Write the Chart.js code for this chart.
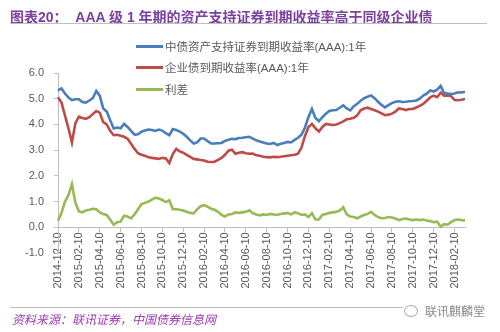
<!DOCTYPE html>
<html>
<head>
<meta charset="utf-8">
<script src="https://cdn.jsdelivr.net/npm/chart.js@4.4.1/dist/chart.umd.min.js"></script>
<style>
  body { margin: 0; background: #fff; }
  #wrap { position: relative; width: 500px; height: 332px; overflow: hidden;
          font-family: "Liberation Sans", "Noto Sans CJK SC", sans-serif; }
  #myChart { position: absolute; left: 0; top: 0; }
  .title { position: absolute; left: 10px; top: 6px; font-size: 14px; font-weight: bold;
           color: #7b3fa0; white-space: nowrap; }
  .rule { position: absolute; height: 1px; background: #bfbfbf; }
  .legend { position: absolute; left: 136px; font-size: 11.5px; color: #595959; white-space: nowrap;
            display: flex; align-items: center; }
  .legend i { display: inline-block; width: 27px; height: 3px; margin-right: 2px; }
  .source { position: absolute; left: 12px; top: 310px; font-size: 12px; font-style: italic;
            color: #9b3bb0; white-space: nowrap; }
  .mark { position: absolute; left: 404px; top: 302px; font-size: 12px; color: #8a8a8a;
          white-space: nowrap; display: flex; align-items: center; }
  .mark b { display: inline-block; width: 12px; height: 10px; border: 1px solid #aaa;
            border-radius: 50%; margin-right: 7px; }
  #minLabel { position: absolute; right: 456px; top: 246px; z-index: 10; font-size: 11px;
              line-height: 13px; color: #595959; white-space: nowrap; }
</style>
</head>
<body>
<div id="wrap">
  <canvas id="myChart" width="500" height="332"></canvas>
  <div class="title">图表20：&nbsp; AAA 级 1 年期的资产支持证券到期收益率高于同级企业债</div>
  <div class="rule" style="left:10px; top:23px; width:477px;"></div>
  <div class="legend" style="top:38px;"><i style="background:#4a7ebb"></i>中债资产支持证券到期收益率(AAA):1年</div>
  <div class="legend" style="top:59px;"><i style="background:#be4b48"></i>企业债到期收益率(AAA):1年</div>
  <div class="legend" style="top:81px;"><i style="background:#98b954"></i>利差</div>
  <div class="rule" style="left:10px; top:307px; width:393px;"></div>
  <div class="source">资料来源：联讯证券，中国债券信息网</div>
  <div class="mark"><b></b>联讯麒麟堂</div>
  <div id="minLabel"></div>
</div>
<script>
// dates: 10th, 20th, 30th of each month, 2014-12-10 .. 2018-03-10
const dates = [];
for (let y = 2014, m = 12; y < 2018 || m <= 3; m++) {
  if (m > 12) { m = 1; y++; }
  const mm = String(m).padStart(2, "0");
  for (const d of ["10", "20", "30"]) {
    if (y === 2018 && m === 3 && d !== "10") break;
    dates.push(y + "-" + mm + "-" + d);
  }
}

const absYield = [
  5.32, 5.4, 5.2, 5.05, 4.95, 4.98, 4.98, 4.87, 4.85, 4.93, 5.02, 5.3,
  5.12, 4.62, 4.5, 4.16, 3.84, 3.88, 3.85, 4.02, 3.9, 3.75, 3.6, 3.62,
  3.72, 3.76, 3.8, 3.78, 3.75, 3.8, 3.76, 3.66, 3.58, 3.82, 3.78, 3.72,
  3.64, 3.52, 3.38, 3.26, 3.3, 3.45, 3.45, 3.35, 3.26, 3.26, 3.27, 3.28,
  3.36, 3.4, 3.44, 3.43, 3.47, 3.48, 3.5, 3.52, 3.45, 3.38, 3.34, 3.3,
  3.26, 3.24, 3.28, 3.2, 3.25, 3.28, 3.32, 3.3, 3.4, 3.48, 3.6, 3.88,
  4.29, 4.6, 4.25, 4.13, 4.28, 4.42, 4.52, 4.55, 4.56, 4.65, 4.74, 4.62,
  4.55, 4.7, 4.8, 4.92, 5.02, 5.08, 5.13, 5.02, 4.88, 4.76, 4.66, 4.75,
  4.83, 4.88, 4.9, 4.87, 4.88, 4.9, 4.91, 4.93, 5.0, 5.12, 5.2, 5.32,
  5.28, 5.35, 5.5, 5.22, 5.2, 5.18, 5.2, 5.25, 5.24, 5.27
];

const corpYield = [
  5.06, 4.85, 4.35, 3.85, 3.3, 4.05, 4.3, 4.25, 4.22, 4.28, 4.4, 4.52,
  4.46, 4.09, 4.0, 3.75, 3.58, 3.6, 3.56, 3.52, 3.44, 3.25, 3.05, 2.88,
  2.82, 2.78, 2.72, 2.7, 2.68, 2.66, 2.7, 2.68, 2.5, 2.85, 3.05, 2.95,
  2.9, 2.82, 2.74, 2.66, 2.64, 2.62, 2.6, 2.55, 2.54, 2.55, 2.62, 2.7,
  2.82, 2.98, 3.02, 2.86, 2.9, 2.92, 2.88, 2.86, 2.87, 2.8, 2.78, 2.74,
  2.73, 2.72, 2.74, 2.73, 2.74, 2.76, 2.78, 2.8, 2.82, 2.86, 3.1, 3.55,
  3.9, 4.02, 3.85, 3.72, 3.9, 4.02, 4.0, 3.98, 4.0, 4.05, 4.12, 4.2,
  4.22, 4.26, 4.35, 4.55, 4.62, 4.65, 4.6, 4.55, 4.5, 4.43, 4.36, 4.38,
  4.42, 4.5, 4.62, 4.6, 4.56, 4.6, 4.6, 4.66, 4.72, 4.8, 4.92, 5.05,
  5.12, 5.06, 5.24, 5.12, 5.13, 5.1, 4.95, 4.94, 4.96, 4.99
];

const spread = [
  0.26, 0.55, 1.0, 1.25, 1.68, 0.95, 0.62, 0.58, 0.65, 0.68, 0.72, 0.7,
  0.58, 0.52, 0.48, 0.3, 0.1, 0.2, 0.22, 0.45, 0.42, 0.35, 0.5, 0.7,
  0.9, 0.95, 1.0, 1.08, 1.15, 1.12, 1.06, 0.98, 1.05, 0.7, 0.7, 0.68,
  0.65, 0.6, 0.56, 0.54, 0.7, 0.82, 0.86, 0.8, 0.72, 0.68, 0.6, 0.48,
  0.42, 0.5, 0.52, 0.58, 0.56, 0.58, 0.6, 0.66, 0.55, 0.5, 0.46, 0.5,
  0.48, 0.52, 0.5, 0.48, 0.52, 0.54, 0.55, 0.5, 0.58, 0.55, 0.48, 0.5,
  0.4, 0.55, 0.3, 0.3, 0.48, 0.52, 0.56, 0.58, 0.6, 0.65, 0.78, 0.5,
  0.42, 0.4, 0.35, 0.42, 0.48, 0.52, 0.6, 0.48, 0.4, 0.35, 0.36, 0.4,
  0.38, 0.34, 0.28, 0.32, 0.34, 0.3, 0.28, 0.3, 0.28, 0.3, 0.26, 0.24,
  0.2, 0.22, 0.02, 0.12, 0.1, 0.2, 0.28, 0.3, 0.28, 0.27
];

const yMin = -1;
const yMax = 6;

const axisFont = { family: "'Liberation Sans', Arial, sans-serif", size: 11 };
const textColor = "#595959";
const axisColor = "#bfbfbf";

// the lowest y label would not show on the canvas, so it is set as page text
document.getElementById("minLabel").textContent = yMin.toFixed(1);

const ctx = document.getElementById("myChart");

new Chart(ctx, {
  type: "line",
  data: {
    labels: dates,
    datasets: [
      { label: "中债资产支持证券到期收益率(AAA):1年", data: absYield, borderColor: "#4a7ebb" },
      { label: "企业债到期收益率(AAA):1年", data: corpYield, borderColor: "#be4b48" },
      { label: "利差", data: spread, borderColor: "#98b954" },
    ],
  },
  options: {
    responsive: false,
    animation: false,
    layout: { padding: { left: 0, right: 35, top: 73, bottom: 79 } },
    elements: {
      point: { radius: 0 },
      line: { borderWidth: 2.6, tension: 0 },
    },
    plugins: {
      legend: { display: false },
      tooltip: { enabled: false },
    },
    scales: {
      x: {
        position: { y: 0 },
        grid: { drawOnChartArea: false, tickLength: 4, color: axisColor },
        border: { color: axisColor },
        ticks: {
          autoSkip: false,
          minRotation: 90,
          maxRotation: 90,
          padding: 1,
          font: axisFont,
          color: textColor,
          callback: (v, i) => (i % 6 === 0 ? dates[i] : null),
        },
      },
      y: {
        position: "left",
        min: yMin,
        max: yMax,
        afterFit: (s) => { s.width = 58; },
        grid: { drawOnChartArea: false, tickLength: 4, color: axisColor },
        border: { color: axisColor },
        ticks: {
          stepSize: 1,
          padding: 10,
          font: axisFont,
          color: textColor,
          callback: (v) => (v === yMin ? "" : v.toFixed(1)),
        },
      },
    },
  },
});
</script>
</body>
</html>
